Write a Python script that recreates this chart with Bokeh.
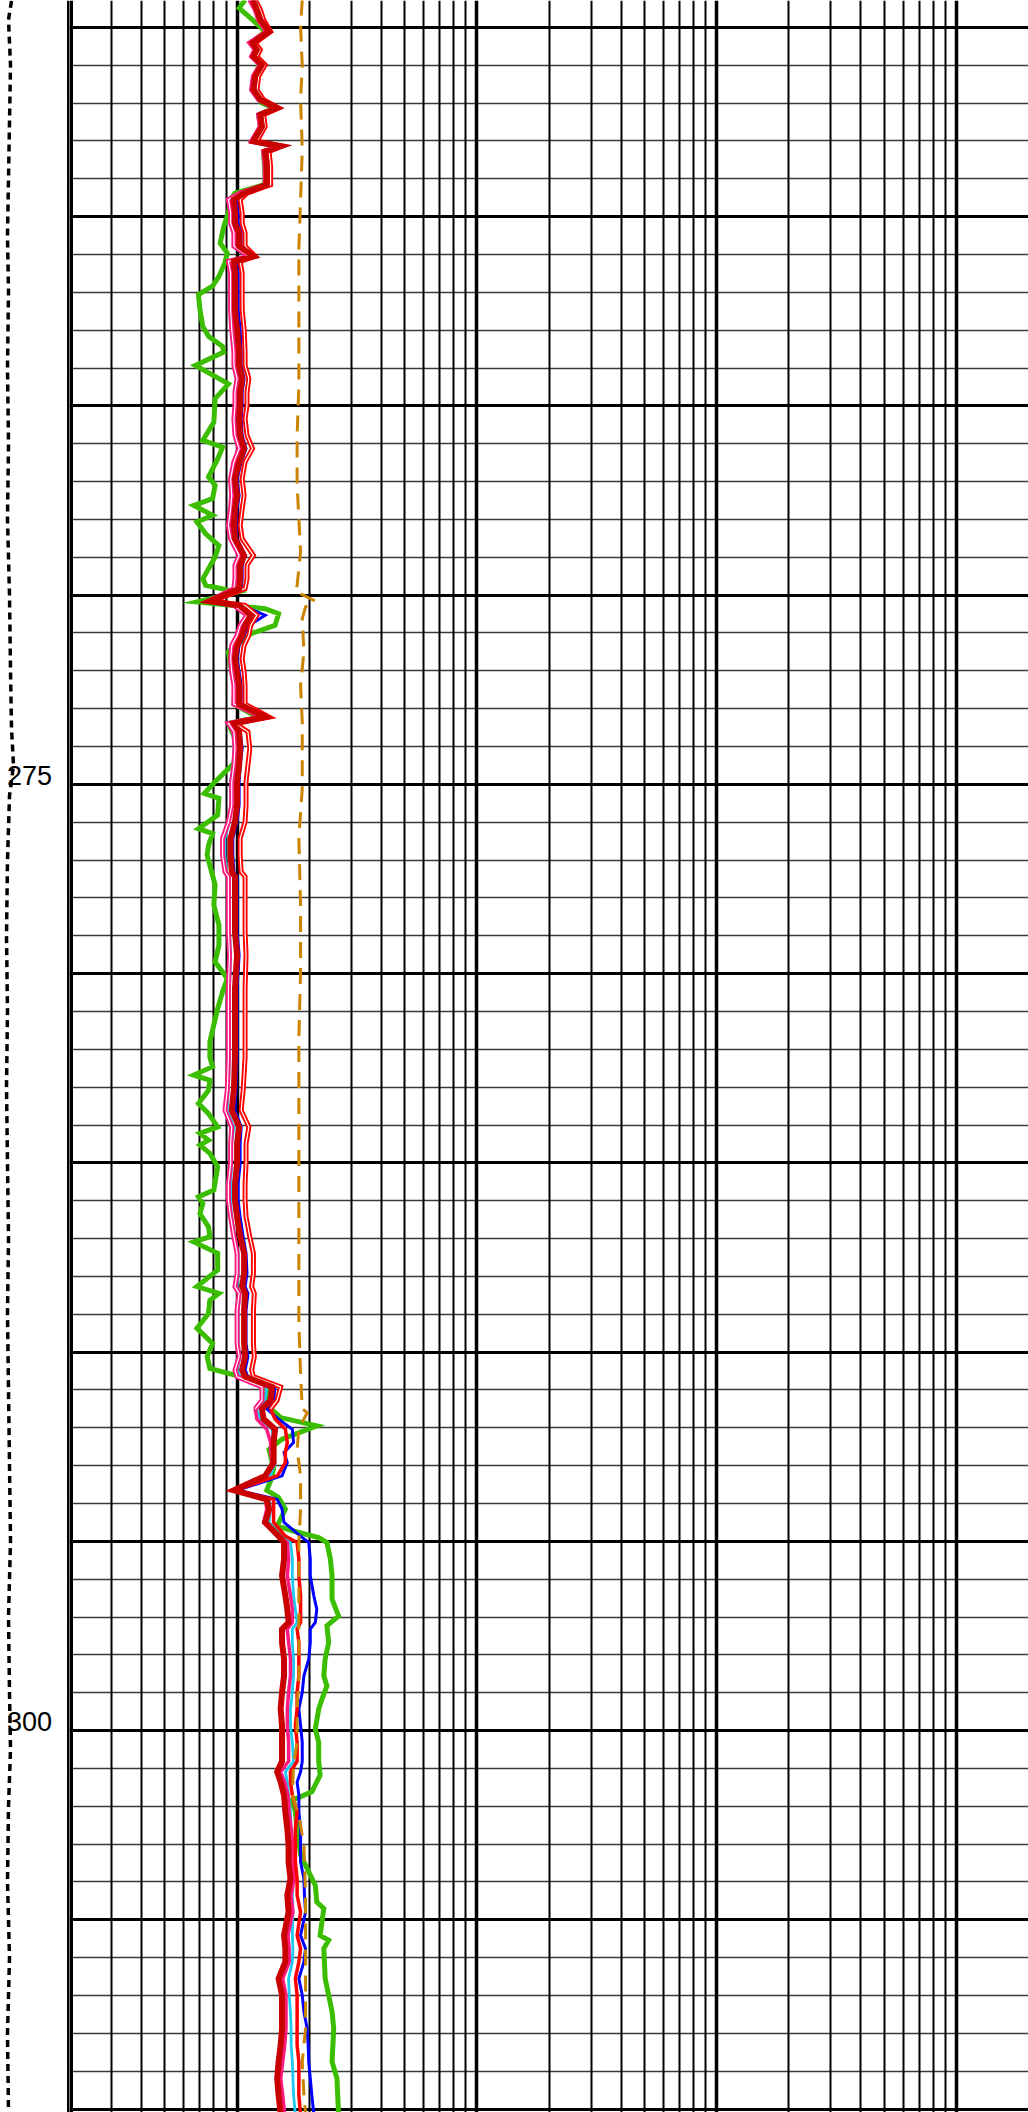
from bokeh.plotting import figure
from bokeh.models import Range1d, LogScale, Grid, FixedTicker, Span
from bokeh.layouts import row
from bokeh.embed import file_html
from bokeh.resources import INLINE
from bokeh.core.properties import value

# ---------------- depth window (ft) ----------------
DEPTH_TOP = 254.29
DEPTH_BOT = 310.09

# ---------------- grid / ticks ----------------
x_major = [1, 10, 100, 1000, 2000]
x_minor = [0.3, 0.4, 0.5, 0.6, 0.7, 0.8, 0.9,
           2, 3, 4, 5, 6, 7, 8, 9,
           20, 30, 40, 50, 60, 70, 80, 90,
           200, 300, 400, 500, 600, 700, 800, 900]
y_major = [255, 260, 265, 270, 275, 280, 285, 290, 295, 300, 305, 310]
y_minor = [d for d in range(255, 311) if d % 5 != 0]
depth_labels = [275, 300]
depth_label_text = ["275", "300"]

# ---------------- resistivity bundle (ohm.m) ----------------
bundle_depth = [
    254.27, 254.53, 254.80, 255.11, 255.41, 255.59, 255.77, 255.99, 256.29, 256.65,
    256.91, 257.13, 257.31, 257.62, 258.01, 258.14, 258.28, 258.67, 259.16, 259.38,
    259.55, 259.90, 260.17, 260.43, 260.78, 261.05, 261.18, 261.49, 261.93, 262.46,
    262.98, 263.57,
    263.93, 264.28, 264.64, 264.99, 265.34, 265.78, 266.13, 266.48, 266.93, 267.37,
    267.72, 268.16, 268.51, 268.95, 269.21, 269.57, 269.83, 270.16, 270.27, 270.53,
    270.80, 271.06, 271.33, 271.68, 272.03, 272.38, 272.88,
    273.22, 273.39, 273.61, 274.05, 274.49, 274.93, 275.55, 275.99, 276.43, 276.87,
    277.31, 277.44, 277.84, 278.37, 278.90, 279.51, 280.39, 281.27, 282.21,
    283.08, 283.61, 284.05, 284.49, 285.02, 285.55, 285.99, 286.43, 286.95, 287.39,
    287.92, 288.27, 288.45, 288.89, 289.33, 289.77, 290.12, 290.47, 290.65, 290.92,
    291.27, 291.50,
    291.77, 292.04, 292.39, 292.65, 292.92, 293.27, 293.65, 293.89, 294.15, 294.50,
    294.86, 295.03, 295.47, 295.91, 296.44, 296.79, 297.14, 297.32, 297.67, 298.11,
    298.55, 298.99, 299.43, 299.87, 300.31, 300.81,
    301.09, 301.36, 301.71, 302.15, 302.59, 303.03, 303.47, 303.91, 304.35, 304.79,
    305.41, 305.76, 306.11, 306.55, 306.99, 307.43, 307.87, 308.31, 308.75, 309.19,
    309.63, 310.13]

res_darkred = [
    1.16, 1.21, 1.25, 1.36, 1.16, 1.21, 1.17, 1.27, 1.19, 1.17, 1.25, 1.47, 1.25, 1.27, 1.17, 1.52,
    1.31, 1.33, 1.33, 1.07, 0.97, 0.98, 0.98, 1.02, 1.02, 1.17, 0.97, 0.98, 0.98, 0.98, 1.00, 1.02,
    1.02, 1.05, 1.03, 1.03, 1.02, 1.03, 1.07, 1.02, 0.98, 1.00, 0.98, 0.97, 0.98, 1.07, 1.03, 1.03,
    1.02, 0.77, 1.02, 1.14, 1.08, 1.05, 1.00, 0.98, 1.00, 1.02, 1.02,
    1.31, 0.97, 1.02, 1.03, 1.02, 1.00, 1.00, 0.98, 0.94, 0.94, 0.95, 0.98, 0.98, 0.98, 0.98, 1.00,
    0.98, 0.98, 0.98,
    0.97, 0.95, 1.02, 1.00, 1.00, 0.98, 0.98, 1.00, 1.03, 1.07, 1.07, 1.05, 1.08, 1.07, 1.07, 1.07,
    1.08, 1.05, 1.08, 1.40, 1.38, 1.27,
    1.29, 1.44, 1.42, 1.42, 1.42, 1.31, 0.97, 1.33, 1.36, 1.31, 1.49, 1.57, 1.57, 1.54, 1.59, 1.62,
    1.64, 1.54, 1.54, 1.57, 1.57, 1.54, 1.52, 1.54, 1.54, 1.54,
    1.47, 1.52, 1.57, 1.59, 1.62, 1.64, 1.64, 1.67, 1.62, 1.64, 1.57, 1.59, 1.59, 1.49, 1.54, 1.54,
    1.54, 1.52, 1.49, 1.47, 1.49, 1.52]

res_red = [
    1.19, 1.25, 1.29, 1.38, 1.19, 1.25, 1.21, 1.31, 1.23, 1.21, 1.29, 1.49, 1.29, 1.31, 1.21, 1.54,
    1.36, 1.38, 1.38, 1.10, 1.03, 1.05, 1.05, 1.08, 1.08, 1.19, 1.03, 1.05, 1.05, 1.05, 1.07, 1.08,
    1.08, 1.12, 1.10, 1.10, 1.08, 1.10, 1.16, 1.08, 1.05, 1.07, 1.05, 1.03, 1.05, 1.17, 1.10, 1.10,
    1.08, 0.79, 1.08, 1.21, 1.14, 1.12, 1.07, 1.05, 1.07, 1.08, 1.08,
    1.36, 0.98, 1.11, 1.13, 1.11, 1.09, 1.09, 1.08, 1.03, 1.03, 1.04, 1.08, 1.08, 1.08, 1.08, 1.09,
    1.08, 1.08, 1.08,
    1.06, 1.04, 1.12, 1.09, 1.09, 1.08, 1.08, 1.09, 1.13, 1.17, 1.17, 1.15, 1.18, 1.17, 1.17, 1.17,
    1.18, 1.15, 1.17, 1.52, 1.47, 1.38,
    1.44, 1.59, 1.62, 1.59, 1.59, 1.47, 0.98, 1.42, 1.42, 1.42, 1.59, 1.78, 1.81, 1.81, 1.84, 1.84,
    1.84, 1.78, 1.81, 1.81, 1.81, 1.78, 1.78, 1.75, 1.78, 1.78,
    1.67, 1.67, 1.70, 1.78, 1.75, 1.75, 1.75, 1.78, 1.78, 1.84, 1.78, 1.84, 1.81, 1.75, 1.78, 1.78,
    1.78, 1.78, 1.81, 1.81, 1.81, 1.84]

res_pink = [
    1.13, 1.19, 1.23, 1.33, 1.13, 1.19, 1.15, 1.25, 1.17, 1.15, 1.23, 1.44, 1.23, 1.25, 1.15, 1.48,
    1.29, 1.31, 1.31, 1.03, 0.92, 0.94, 0.94, 0.97, 0.97, 1.12, 0.92, 0.94, 0.94, 0.94, 0.95, 0.97,
    0.97, 1.00, 0.98, 0.98, 0.97, 0.98, 1.02, 0.97, 0.94, 0.95, 0.94, 0.92, 0.94, 1.02, 0.98, 0.98,
    0.97, 0.76, 0.97, 1.10, 1.03, 1.00, 0.95, 0.94, 0.95, 0.97, 0.97,
    1.27, 0.92, 0.97, 0.98, 0.97, 0.95, 0.95, 0.92, 0.87, 0.87, 0.89, 0.92, 0.92, 0.92, 0.92, 0.93,
    0.92, 0.92, 0.92,
    0.91, 0.89, 0.95, 0.94, 0.94, 0.92, 0.92, 0.94, 0.97, 1.00, 1.00, 0.98, 1.02, 1.00, 1.00, 1.00,
    1.02, 0.98, 1.00, 1.27, 1.27, 1.19,
    1.21, 1.33, 1.38, 1.38, 1.40, 1.33, 0.98, 1.31, 1.33, 1.29, 1.49, 1.62, 1.64, 1.62, 1.67, 1.70,
    1.70, 1.62, 1.64, 1.67, 1.67, 1.64, 1.62, 1.62, 1.64, 1.64,
    1.52, 1.58, 1.63, 1.65, 1.68, 1.71, 1.71, 1.73, 1.68, 1.71, 1.63, 1.65, 1.65, 1.55, 1.60, 1.60,
    1.60, 1.58, 1.55, 1.52, 1.55, 1.58]

res_cyan = [
    1.13, 1.18, 1.22, 1.32, 1.13, 1.18, 1.14, 1.24, 1.16, 1.14, 1.22, 1.42, 1.22, 1.24, 1.14, 1.47,
    1.28, 1.30, 1.30, 1.03, 0.93, 0.95, 0.95, 0.98, 0.98, 1.12, 0.93, 0.95, 0.95, 0.95, 0.96, 0.98,
    0.98, 1.01, 0.99, 0.99, 0.98, 0.99, 1.03, 0.98, 0.95, 0.96, 0.95, 0.93, 0.95, 1.03, 0.99, 0.99,
    0.98, 0.77, 0.98, 1.17, 1.04, 1.01, 0.96, 0.95, 0.96, 0.98, 0.98,
    1.28, 0.92, 0.96, 0.97, 0.96, 0.94, 0.94, 0.93, 0.89, 0.89, 0.90, 0.93, 0.93, 0.93, 0.93, 0.94,
    0.93, 0.93, 0.93,
    0.92, 0.91, 0.97, 0.95, 0.95, 0.94, 0.94, 0.95, 0.98, 1.01, 1.01, 1.00, 1.03, 1.01, 1.01, 1.01,
    1.03, 1.00, 1.03, 1.33, 1.31, 1.21,
    1.25, 1.40, 1.42, 1.42, 1.44, 1.38, 0.99, 1.36, 1.38, 1.36, 1.54, 1.67, 1.70, 1.70, 1.72, 1.75,
    1.78, 1.70, 1.70, 1.72, 1.72, 1.70, 1.67, 1.67, 1.70, 1.72,
    1.59, 1.62, 1.64, 1.67, 1.68, 1.70, 1.71, 1.72, 1.70, 1.71, 1.70, 1.71, 1.70, 1.64, 1.65, 1.67,
    1.68, 1.68, 1.70, 1.71, 1.72, 1.75]

res_blue = [
    1.18, 1.23, 1.28, 1.38, 1.18, 1.23, 1.20, 1.30, 1.22, 1.20, 1.28, 1.49, 1.28, 1.30, 1.20, 1.54,
    1.34, 1.36, 1.36, 1.08, 0.99, 1.01, 1.01, 1.04, 1.04, 1.19, 0.99, 1.01, 1.01, 1.01, 1.03, 1.04,
    1.04, 1.07, 1.05, 1.05, 1.04, 1.05, 1.09, 1.04, 1.00, 1.02, 1.00, 0.99, 1.00, 1.08, 1.05, 1.05,
    1.04, 0.78, 1.04, 1.31, 1.12, 1.07, 1.02, 1.00, 1.02, 1.04, 1.04,
    1.33, 0.98, 1.03, 1.05, 1.03, 1.02, 1.02, 1.00, 0.96, 0.96, 0.97, 1.00, 1.00, 1.00, 1.00, 1.02,
    1.00, 1.00, 1.00,
    0.99, 0.98, 1.04, 1.03, 1.03, 1.01, 1.01, 1.03, 1.06, 1.09, 1.10, 1.08, 1.11, 1.09, 1.09, 1.09,
    1.11, 1.08, 1.11, 1.44, 1.42, 1.33,
    1.49, 1.70, 1.72, 1.57, 1.62, 1.54, 1.00, 1.47, 1.54, 1.57, 1.84, 1.99, 2.02, 2.02, 2.09, 2.15,
    2.12, 2.02, 2.02, 1.99, 1.90, 1.87, 1.81, 1.84, 1.87, 1.87,
    1.84, 1.78, 1.81, 1.81, 1.84, 1.84, 1.84, 1.90, 1.91, 1.93, 1.84, 1.93, 1.90, 1.81, 1.87, 1.90,
    1.96, 1.98, 1.99, 2.02, 2.05, 2.09]

# ---------------- green curve ----------------
green_depth = [
    254.27, 254.49, 254.80, 255.11, 255.41, 255.59, 255.99, 256.56, 257.00, 257.13,
    257.31, 257.62, 258.01, 258.14, 258.28, 259.02, 259.16, 259.38, 259.55, 259.90,
    260.26, 260.70, 260.96, 261.22, 261.58, 261.84, 262.06, 262.46, 262.90, 263.16,
    263.43,
    263.58, 263.93, 264.42, 264.81, 265.43, 265.91, 266.09, 266.40, 266.88, 267.10,
    267.45, 267.63, 267.89, 268.07, 268.38, 268.69, 268.99, 269.57, 269.74, 269.92,
    270.18, 270.36, 270.49, 270.80, 271.02, 271.50, 272.03, 272.47, 272.88,
    273.22, 273.39, 273.79, 274.36, 274.93, 275.24, 275.37, 275.81, 276.17, 276.30,
    276.61, 276.87, 277.14, 277.66, 278.19, 278.72, 279.25, 279.69, 280.13, 280.48,
    280.92, 281.80, 282.21,
    282.46, 282.68, 282.82, 283.08, 283.43, 283.70, 284.05, 284.22, 284.40, 284.53,
    284.75, 285.10, 285.72, 285.90, 286.07, 286.34, 286.69, 286.95, 287.09, 287.39,
    287.83, 288.27, 288.45, 288.63, 288.98, 289.37, 289.77, 290.12, 290.43, 290.61,
    290.83, 291.00, 291.36,
    291.73, 291.95, 292.30, 292.57, 292.74, 293.09, 293.40, 293.65, 293.84, 294.15,
    294.33, 294.59, 294.72, 294.90, 295.03, 295.47, 295.91, 296.53, 296.97, 297.23,
    297.67, 298.11, 298.55, 298.82, 299.17, 299.43, 299.96, 300.31, 300.81,
    301.18, 301.62, 301.84, 302.15, 302.59, 303.29, 303.73, 304.09, 304.53, 304.70,
    305.41, 305.54, 305.76, 306.55, 306.99, 307.43, 307.87, 308.75, 309.19, 310.13]

res_green = [
    1.08, 1.02, 1.16, 1.31, 1.14, 1.21, 1.23, 1.17, 1.27, 1.42,
    1.23, 1.25, 1.16, 1.47, 1.29, 1.31, 1.29, 0.98, 0.94, 0.92,
    0.88, 0.85, 0.91, 0.89, 0.84, 0.79, 0.69, 0.70, 0.72, 0.76,
    0.87,
    0.88, 0.67, 0.92, 0.81, 0.80, 0.72, 0.87, 0.83, 0.76, 0.81,
    0.79, 0.66, 0.79, 0.68, 0.74, 0.84, 0.81, 0.72, 0.74, 1.00,
    0.68, 1.31, 1.49, 1.44, 1.14, 0.92, 0.95, 0.98, 0.97,
    1.21, 0.92, 0.98, 1.00, 0.81, 0.73, 0.84, 0.83, 0.69, 0.79,
    0.76, 0.75, 0.77, 0.81, 0.80, 0.84, 0.84, 0.81, 0.91, 0.87,
    0.83, 0.77, 0.77,
    0.79, 0.66, 0.77, 0.76, 0.69, 0.76, 0.83, 0.70, 0.76, 0.70,
    0.77, 0.83, 0.80, 0.69, 0.72, 0.70, 0.76, 0.77, 0.66, 0.83,
    0.83, 0.68, 0.84, 0.77, 0.76, 0.68, 0.79, 0.75, 0.77, 0.98,
    1.27, 1.33, 1.31,
    1.52, 2.15, 1.54, 1.36, 1.38, 1.42, 1.38, 1.33, 1.49, 1.59,
    1.54, 1.47, 1.70, 2.19, 2.37, 2.45, 2.49, 2.49, 2.65, 2.37,
    2.41, 2.33, 2.30, 2.37, 2.26, 2.19, 2.12, 2.19, 2.19,
    2.22, 2.05, 1.70, 1.75, 1.78, 1.84, 1.99, 2.12, 2.15, 2.30,
    2.22, 2.41, 2.30, 2.33, 2.41, 2.49, 2.53, 2.49, 2.61, 2.65]

# ---------------- dashed orange curve ----------------
orange_depth = [
    254.27, 254.97, 256.03, 256.91, 258.23, 259.55, 260.87, 262.19, 263.57,
    264.46, 265.78, 267.10, 268.86, 269.74, 269.90, 270.09, 270.16, 270.31, 270.62,
    271.50, 272.38,
    273.35, 275.11, 276.43, 278.19, 279.95, 281.71,
    283.96, 286.60, 289.24, 290.56, 291.50,
    291.60, 292.04, 292.57, 293.27, 294.15, 295.03, 296.79, 298.55, 299.43, 300.31,
    300.90, 301.71, 302.24, 303.03, 304.35, 306.11, 307.87, 308.75, 309.63, 310.13]
res_orange = [
    1.87, 1.84, 1.87, 1.84, 1.87, 1.84, 1.81, 1.81, 1.81,
    1.81, 1.78, 1.78, 1.84, 1.78, 1.75, 2.02, 2.12, 1.93, 1.87,
    1.90, 1.84,
    1.87, 1.87, 1.81, 1.84, 1.84, 1.81,
    1.81, 1.81, 1.81, 1.84, 1.87,
    1.96, 1.81, 1.78, 1.84, 1.84, 1.81, 1.81, 1.81, 1.78, 1.78,
    1.72, 1.70, 1.81, 1.90, 1.93, 1.93, 1.93, 1.87, 1.90, 1.93]

# ---------------- depth-track dashed curve ----------------
aux_depth = [254.3, 254.8, 256.0, 257.5, 259.0, 260.5, 262.0, 264.0, 266.0, 268.0,
             270.0, 272.0, 273.5, 274.5, 275.3, 277.0, 279.0, 281.0, 283.0, 285.0,
             287.0, 289.0, 291.0, 293.0, 295.0, 297.0, 299.0, 300.5, 302.0, 304.0,
             306.0, 308.0, 310.1]
aux_val = [11, 8, 10, 9, 8, 7, 8, 7, 8, 7,
           9, 10, 11, 13, 9, 7, 6, 7, 6, 7,
           8, 7, 8, 9, 10, 8, 9, 10, 8, 7,
           9, 7, 8]

H = 2112

# ---------------- depth track ----------------
left = figure(width=69, height=H, x_range=Range1d(0, 69),
              y_range=Range1d(DEPTH_BOT, DEPTH_TOP),
              output_backend="svg", toolbar_location=None,
              x_axis_location=None, y_axis_location=None, min_border=0,
              outline_line_color=None, background_fill_color="white",
              border_fill_color="white")
left.xgrid.visible = False
left.ygrid.visible = False
left.line(aux_val, aux_depth, line_color="black", line_width=3.5, line_dash="7 5")
left.text(x=[6.5] * len(depth_labels), y=depth_labels, text=depth_label_text,
          text_font=value("Liberation Sans"), text_font_size="27px",
          text_color="black", text_align="left", text_baseline="middle",
          y_offset=-9)
left.add_layout(Span(location=69, dimension="height", line_color="black", line_width=5))

# ---------------- resistivity track ----------------
main = figure(width=959, height=H, x_range=Range1d(0.2, 2000),
              y_range=Range1d(DEPTH_BOT, DEPTH_TOP), x_axis_type="log",
              output_backend="svg", toolbar_location=None,
              x_axis_location=None, y_axis_location=None, min_border=0,
              outline_line_color=None, background_fill_color="white",
              border_fill_color="white")
main.x_scale = LogScale()
main.xgrid.visible = False
main.ygrid.visible = False

main.add_layout(Grid(dimension=1, ticker=FixedTicker(ticks=y_major, minor_ticks=y_minor),
                     grid_line_color="black", grid_line_width=3,
                     minor_grid_line_color="#3a3a3a", minor_grid_line_width=1.6))
main.add_layout(Grid(dimension=0, ticker=FixedTicker(ticks=x_major, minor_ticks=x_minor),
                     grid_line_color="black", grid_line_width=3.5,
                     minor_grid_line_color="black", minor_grid_line_width=2))
main.add_layout(Span(location=0.2, dimension="height", line_color="black", line_width=7))

N_UP = 100  # upper part where red / pink show a light centre
j = "miter"
main.line(res_green, green_depth, line_color="#3cbe00", line_width=5, line_join=j)
main.line(res_blue, bundle_depth, line_color="#0000ff", line_width=3, line_join=j)
main.line(res_cyan, bundle_depth, line_color="#1ec8f0", line_width=2.8, line_join=j)
main.line(res_pink, bundle_depth, line_color="#ff1a80", line_width=3.5, line_join=j)
main.line(res_pink[:N_UP], bundle_depth[:N_UP], line_color="#ff1a80", line_width=5, line_join=j)
main.line(res_pink[:N_UP], bundle_depth[:N_UP], line_color="white", line_width=1.2, line_join=j)
main.line(res_red, bundle_depth, line_color="#ff0000", line_width=3.5, line_join=j)
main.line(res_red[:N_UP], bundle_depth[:N_UP], line_color="#ff0000", line_width=5, line_join=j)
main.line(res_red[:N_UP], bundle_depth[:N_UP], line_color="white", line_width=1.2, line_join=j)
main.line(res_darkred, bundle_depth, line_color="#c80000", line_width=6, line_join=j)
main.line(res_orange, orange_depth, line_color="#cc8400", line_width=3, line_dash="16 10")

layout = row(left, main, spacing=0)

open("out.html", "w").write(file_html(layout, INLINE))
